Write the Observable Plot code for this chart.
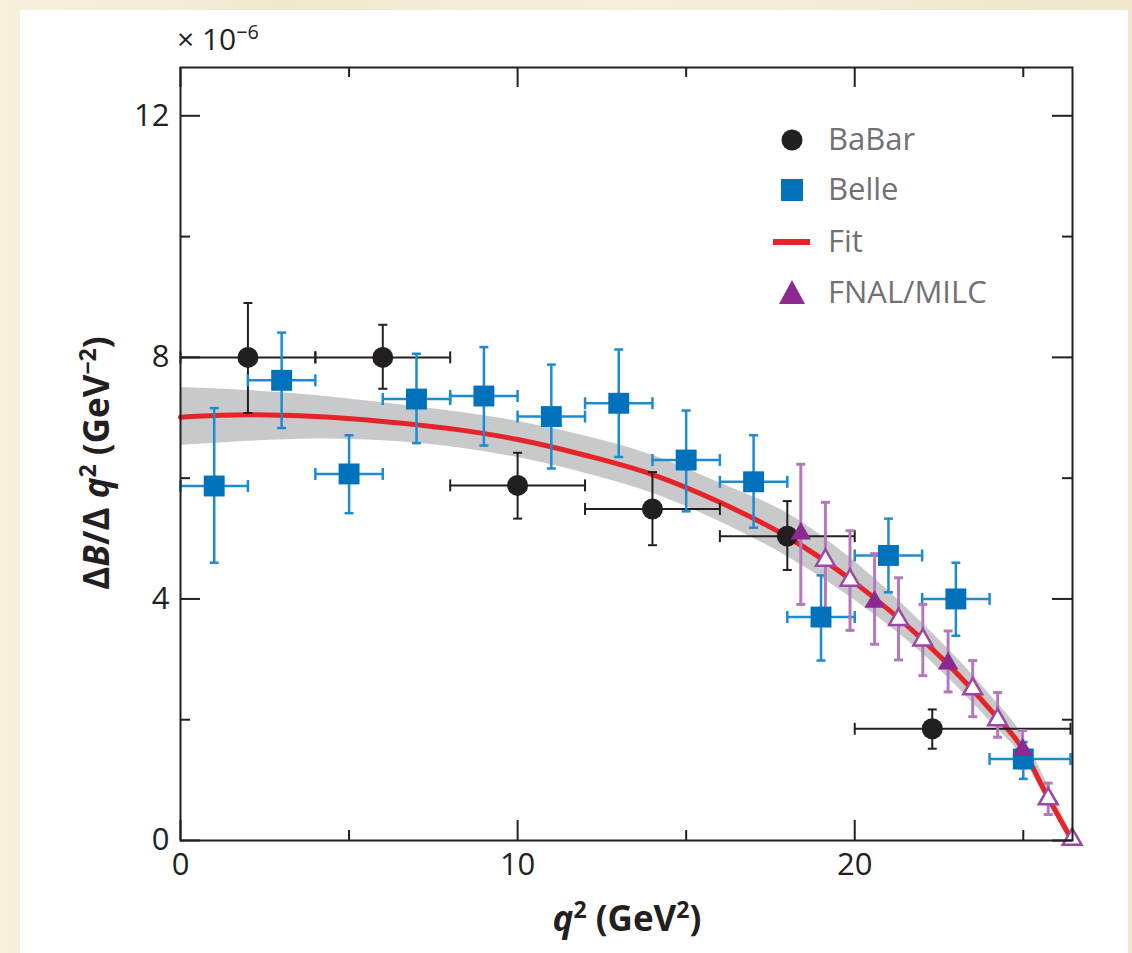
<!DOCTYPE html>
<html>
<head>
<meta charset="utf-8">
<script src="https://cdn.jsdelivr.net/npm/d3@7"></script>
<script src="https://cdn.jsdelivr.net/npm/@observablehq/plot@0.6"></script>
<style>
  html, body { margin: 0; padding: 0; }
  body {
    width: 1132px; height: 953px; position: relative; overflow: hidden;
    background: linear-gradient(90deg, #f6f0dd 0%, #f1e8cf 25%, #f5eed9 55%, #efe6cc 100%);
    font-family: "Open Sans", sans-serif;
  }
  #panel { position: absolute; left: 20px; top: 10px; width: 1108px; height: 943px; background: #fff; }
  #chart { position: absolute; left: 20px; top: 10px; }
  .lg { position: absolute; left: 768px; height: 44px; display: flex; align-items: center; }
  .lg svg { width: 48px; height: 44px; }
  .lg span { position: absolute; left: 60px; font-size: 31px; color: #717174; white-space: nowrap; line-height: 44px; top: -2px; }
</style>
</head>
<body>
<div id="panel"></div>
<div id="chart"></div>
<div id="legend"></div>
<script>
// ---------- data (in units of 1e-6 GeV^-2) ----------
const babarQ     = [2, 6, 10, 14, 18, 22.3];
const babarV     = [8.00, 8.00, 5.88, 5.49, 5.04, 1.85];
const babarLo    = [7.08, 7.48, 5.33, 4.89, 4.48, 1.52];
const babarHi    = [8.90, 8.54, 6.42, 6.10, 5.62, 2.17];
const babarBinLo = [0, 4, 8, 12, 16, 20];
const babarBinHi = [4, 8, 12, 16, 20, 26.4];

const belleQ     = [1, 3, 5, 7, 9, 11, 13, 15, 17, 19, 21, 23, 25];
const belleV     = [5.87, 7.62, 6.07, 7.31, 7.36, 7.02, 7.24, 6.30, 5.94, 3.70, 4.72, 4.00, 1.35];
const belleLo    = [4.60, 6.83, 5.42, 6.58, 6.54, 6.16, 6.35, 5.45, 5.18, 2.98, 4.11, 3.39, 1.02];
const belleHi    = [7.16, 8.41, 6.71, 8.06, 8.17, 7.88, 8.13, 7.12, 6.71, 4.39, 5.33, 4.60, 1.63];
const belleBinLo = [0, 2, 4, 6, 8, 10, 12, 14, 16, 18, 20, 22, 24];
const belleBinHi = [2, 4, 6, 8, 10, 12, 14, 16, 18, 20, 22, 24, 26.4];

const fnalQ      = [18.4, 19.13, 19.86, 20.59, 21.3, 22.02, 22.77, 23.5, 24.24, 24.98, 25.74, 26.45];
const fnalV      = [5.08, 4.64, 4.31, 3.95, 3.66, 3.32, 2.93, 2.51, 2.00, 1.50, 0.69, 0.02];
const fnalLo     = [3.91, 3.68, 3.48, 3.25, 2.99, 2.73, 2.46, 2.05, 1.71, 1.20, 0.43, null];
const fnalHi     = [6.23, 5.60, 5.13, 4.75, 4.35, 3.91, 3.47, 2.98, 2.45, 1.82, 0.95, null];
const fnalFilled = [true, false, false, true, false, false, true, false, false, true, false, false];

const fitQ   = [0, 2, 4, 6, 8, 10, 12, 14, 16, 18, 20, 22, 24, 25, 25.7, 26.45];
const fitV   = [7.01, 7.05, 7.02, 6.94, 6.82, 6.64, 6.38, 6.06, 5.60, 5.03, 4.27, 3.33, 2.18, 1.50, 0.75, 0];
const bandLo = [6.54, 6.61, 6.65, 6.62, 6.52, 6.34, 6.08, 5.75, 5.28, 4.70, 3.98, 3.10, 1.98, 1.36, 0.66, 0];
const bandHi = [7.50, 7.45, 7.37, 7.25, 7.11, 6.94, 6.70, 6.38, 5.92, 5.42, 4.62, 3.60, 2.42, 1.72, 0.95, 0.08];

const xMajor = [0, 10, 20];
const xMinor = [5, 15, 25];
const yMajor = [0, 4, 8, 12];
const yMinor = [2, 6, 10];

const seriesNames = ["BaBar", "Belle", "Fit", "FNAL/MILC"];

// ---------- tables ----------
const babar = babarQ.map((q, i) => ({q, v: babarV[i], lo: babarLo[i], hi: babarHi[i], xlo: babarBinLo[i], xhi: babarBinHi[i]}));
const belle = belleQ.map((q, i) => ({q, v: belleV[i], lo: belleLo[i], hi: belleHi[i], xlo: belleBinLo[i], xhi: belleBinHi[i]}));
const fnal  = fnalQ.map((q, i) => ({q, v: fnalV[i], lo: fnalLo[i], hi: fnalHi[i], filled: fnalFilled[i]}));
const fnalErr = fnal.filter(d => d.lo != null);
const fit   = fitQ.map((q, i) => ({q, v: fitV[i], lo: bandLo[i], hi: bandHi[i]}));

// ---------- style ----------
const K = "#231f20";
const BLUE = "#0072bc", BLUE_ERR = "#1d8bd1";
const PURP = "#8c2a92", PURP_ERR = "#b578bd", PURP_OPEN = "#9d47a4";
const RED = "#e52329", GRAY = "#c8c9ca";

const W = 1108, H = 943, mL = 160, mR = 56, mT = 57, mB = 113;
const fw = W - mL - mR, fh = H - mT - mB;

const hcap = w => ({draw(ctx) { ctx.moveTo(-w / 2, 0); ctx.lineTo(w / 2, 0); }});
const vcap = h => ({draw(ctx) { ctx.moveTo(0, -h / 2); ctx.lineTo(0, h / 2); }});

function errMarks(data, color, sw, capW, capH, withX) {
  const m = [
    Plot.ruleX(data, {x: "q", y1: "lo", y2: "hi", stroke: color, strokeWidth: sw}),
    Plot.dot(data, {x: "q", y: "lo", symbol: hcap(capW), stroke: color, strokeWidth: sw, fill: "none"}),
    Plot.dot(data, {x: "q", y: "hi", symbol: hcap(capW), stroke: color, strokeWidth: sw, fill: "none"})
  ];
  if (withX) {
    m.push(
      Plot.ruleY(data, {y: "v", x1: "xlo", x2: "xhi", stroke: color, strokeWidth: sw}),
      Plot.dot(data, {x: "xlo", y: "v", symbol: vcap(capH), stroke: color, strokeWidth: sw, fill: "none"}),
      Plot.dot(data, {x: "xhi", y: "v", symbol: vcap(capH), stroke: color, strokeWidth: sw, fill: "none"})
    );
  }
  return m;
}

const chart = Plot.plot({
  width: W, height: H,
  marginLeft: mL, marginRight: mR, marginTop: mT, marginBottom: mB,
  style: {fontFamily: "'Open Sans', sans-serif", background: "transparent", overflow: "visible"},
  x: {domain: [0, 26.46], label: null},
  y: {domain: [0, 12.8], label: null},
  marks: [
    Plot.areaY(fit, {x: "q", y1: "lo", y2: "hi", fill: GRAY, curve: "monotone-x"}),
    Plot.line(fit, {x: "q", y: "v", stroke: RED, strokeWidth: 5, curve: "monotone-x"}),
    ...errMarks(babar, K, 2, 9, 12, true),
    ...errMarks(belle, BLUE_ERR, 2.5, 9, 12, true),
    ...errMarks(fnalErr, PURP_ERR, 3, 9, 12, false),
    Plot.dot(babar, {x: "q", y: "v", r: 10.5, fill: K, stroke: "none"}),
    Plot.dot(belle, {x: "q", y: "v", symbol: "square", r: 11.8, fill: BLUE, stroke: "none"}),
    Plot.dot(fnal.filter(d => d.filled), {x: "q", y: "v", symbol: "triangle", r: 7.6, fill: PURP, stroke: "none"}),
    Plot.dot(fnal.filter(d => !d.filled), {x: "q", y: "v", symbol: "triangle", r: 7.0, fill: "white", stroke: PURP_OPEN, strokeWidth: 2.5}),
    // inward ticks on all four sides
    Plot.tickX(xMajor, {x: d => d, insetTop: fh - 20, stroke: K, strokeWidth: 2}),
    Plot.tickX(xMinor, {x: d => d, insetTop: fh - 10, stroke: K, strokeWidth: 2}),
    Plot.tickX(xMajor, {x: d => d, insetBottom: fh - 20, stroke: K, strokeWidth: 2}),
    Plot.tickX(xMinor, {x: d => d, insetBottom: fh - 10, stroke: K, strokeWidth: 2}),
    Plot.tickY(yMajor, {y: d => d, insetRight: fw - 20, stroke: K, strokeWidth: 2}),
    Plot.tickY(yMinor, {y: d => d, insetRight: fw - 10, stroke: K, strokeWidth: 2}),
    Plot.tickY(yMajor, {y: d => d, insetLeft: fw - 20, stroke: K, strokeWidth: 2}),
    Plot.tickY(yMinor, {y: d => d, insetLeft: fw - 10, stroke: K, strokeWidth: 2}),
    Plot.frame({stroke: K, strokeWidth: 2}),
    Plot.axisX({ticks: xMajor, tickSize: 0, tickPadding: 12, fontSize: 31, color: K, label: null}),
    Plot.axisY({ticks: yMajor, tickSize: 0, tickPadding: 11, fontSize: 31, color: K, label: null})
  ]
});
document.getElementById("chart").appendChild(chart);

// ---------- axis titles and exponent ----------
const svg = d3.select(chart);
function rich(g, parts, size) {
  let pend = 0;
  parts.forEach(p => {
    const o = typeof p === "string" ? {t: p} : p;
    const t = g.append("tspan");
    let dy = pend; pend = 0;
    if (o.it) t.attr("font-style", "italic");
    if (o.sup) { t.attr("font-size", size * 0.66); dy += -size * 0.38; pend = size * 0.38; }
    if (dy) t.attr("dy", dy);
    t.text(o.t);
  });
}
const ylab = svg.append("text")
  .attr("transform", "translate(89,453) rotate(-90)")
  .attr("text-anchor", "middle").attr("font-size", 35).attr("font-weight", "bold").attr("fill", K)
  .attr("font-family", "'Open Sans', sans-serif");
rich(ylab, ["\u0394", {t: "B", it: true}, "/\u0394 ", {t: "q", it: true}, {t: "2", sup: true}, " (GeV", {t: "\u22122", sup: true}, ")"], 35);

const xlab = svg.append("text")
  .attr("x", 607).attr("y", 921)
  .attr("text-anchor", "middle").attr("font-size", 35).attr("font-weight", "bold").attr("fill", K)
  .attr("font-family", "'Open Sans', sans-serif");
rich(xlab, [{t: "q", it: true}, {t: "2", sup: true}, " (GeV", {t: "2", sup: true}, ")"], 35);

const expo = svg.append("text")
  .attr("x", 157).attr("y", 40).attr("text-anchor", "start").attr("font-size", 30).attr("fill", K)
  .attr("font-family", "'Open Sans', sans-serif");
rich(expo, ["\u00d7 10", {t: "\u22126", sup: true}], 30);

// ---------- legend ----------
const legendSymbols = [
  `<circle cx="24" cy="22" r="10.5" fill="${K}"/>`,
  `<rect x="13" y="11" width="22" height="22" fill="${BLUE}"/>`,
  `<line x1="5" x2="42" y1="22" y2="22" stroke="${RED}" stroke-width="6"/>`,
  `<path d="M24,9 L37,33 L11,33 Z" fill="${PURP}"/>`
];
const legendY = [140, 190, 242, 293];
const lg = document.getElementById("legend");
seriesNames.forEach((name, i) => {
  const div = document.createElement("div");
  div.className = "lg";
  div.style.top = (legendY[i] - 22) + "px";
  div.innerHTML = `<svg viewBox="0 0 48 44">${legendSymbols[i]}</svg><span>${name}</span>`;
  lg.appendChild(div);
});
</script>
</body>
</html>
